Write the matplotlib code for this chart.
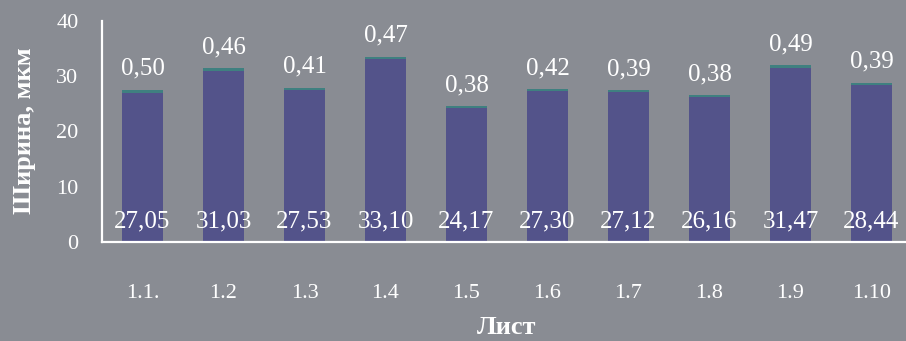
import matplotlib
matplotlib.use("Agg")
import matplotlib.pyplot as plt
import numpy as np

# Sheet labels and measured kerf widths (µm)
sheets = ["1.1.", "1.2", "1.3", "1.4", "1.5", "1.6", "1.7", "1.8", "1.9", "1.10"]
width_main = [27.05, 31.03, 27.53, 33.10, 24.17, 27.30, 27.12, 26.16, 31.47, 28.44]
width_extra = [0.50, 0.46, 0.41, 0.47, 0.38, 0.42, 0.39, 0.38, 0.49, 0.39]
y_ticks = [0, 10, 20, 30, 40]

BG = "#898c93"
BASE = "#53538a"
TOP = "#3f8080"
FONT = "Liberation Serif"

plt.rcParams["font.family"] = [FONT, "DejaVu Serif"]

fig = plt.figure(figsize=(9.06, 3.41), dpi=100, facecolor=BG)
ax = fig.add_axes([102 / 906, 99 / 341, 810 / 906, 221 / 341])
ax.set_facecolor(BG)

x = np.arange(len(sheets))
ax.bar(x, width_main, width=0.51, color=BASE, zorder=2)
ax.bar(x, width_extra, width=0.51, bottom=width_main, color=TOP, zorder=2)

for xi, m, e in zip(x, width_main, width_extra):
    ax.annotate(f"{m:.2f}".replace(".", ","), (xi, 0), xytext=(0, 15),
                textcoords="offset points", ha="center", va="center",
                color="white", fontsize=18)
    ax.annotate(f"{e:.2f}".replace(".", ","), (xi, m + e), xytext=(0, 15),
                textcoords="offset points", ha="center", va="center",
                color="white", fontsize=18)

ax.set_xlim(-0.5, len(sheets) - 0.5)
ax.set_ylim(0, 40)
ax.set_yticks(y_ticks)
ax.set_xticks(x)
ax.set_xticklabels(sheets)
ax.tick_params(axis="both", length=0, colors="white", labelsize=16)
ax.tick_params(axis="y", pad=17)
ax.tick_params(axis="x", pad=30)

for side in ("top", "right"):
    ax.spines[side].set_visible(False)
for side in ("left", "bottom"):
    ax.spines[side].set_color("white")
    ax.spines[side].set_linewidth(1.6)

ax.set_ylabel("Ширина, мкм", color="white", fontsize=19, fontweight="bold")
ax.yaxis.set_label_coords((25 - 102) / 810, (242 - 131) / 221)
ax.yaxis.label.set_va("center")
ax.set_xlabel("Лист", color="white", fontsize=19, fontweight="bold")
ax.xaxis.set_label_coords((507 - 102) / 810, (242 - 328) / 221)
ax.xaxis.label.set_va("center")

fig.savefig("out.png", dpi=100, facecolor=BG)
